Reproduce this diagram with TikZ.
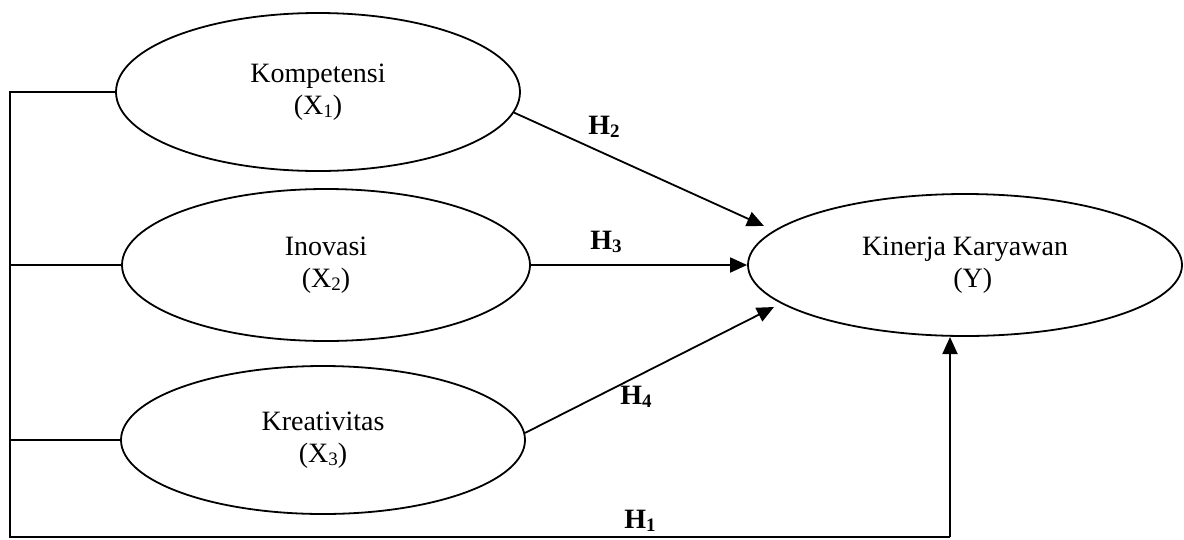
\documentclass[tikz,border=0pt]{standalone}
\usepackage{fontspec}
\setmainfont{Liberation Serif}
\usetikzlibrary{shapes.geometric,arrows.meta}
\newcommand{\sbs}[1]{\raisebox{-0.12em}{\fontsize{19}{19}\selectfont #1}}
\begin{document}
\begin{tikzpicture}[x=1pt,y=-1pt,
  line width=1.8pt,
  var/.style={draw,ellipse,inner sep=0pt,align=center,font=\fontsize{28}{32}\selectfont},
  lab/.style={font=\fontsize{28}{32}\selectfont\bfseries,inner sep=0pt},
  arr/.style={-{Triangle[length=17pt,width=15pt]}}]
\useasboundingbox (0,0) rectangle (1184,539);
\node[var,minimum width=404pt,minimum height=158pt] (k) at (318,92) {Kompetensi\\(X\sbs{1})};
\node[var,minimum width=408pt,minimum height=152pt] (i) at (326,265) {Inovasi\\(X\sbs{2})};
\node[var,minimum width=404pt,minimum height=148pt] (c) at (323,440) {Kreativitas\\(X\sbs{3})};
\node[var,minimum width=434pt,minimum height=142pt] (y) at (965,265) {Kinerja Karyawan\\\;\;(Y)};
\coordinate (tl) at (10,92);
\coordinate (bl) at (10,537);
\coordinate (br) at (950,537);
\coordinate (t2) at (764,226);
\coordinate (t4) at (774,307);
\coordinate (t1) at (950,337);
\draw (k.west) -- (tl) -- (bl) -- (br);
\draw (i.west) -- (i.west -| tl);
\draw (c.west) -- (c.west -| tl);
\draw[arr] (br) -- (t1);
\draw[arr] (k.-6) -- (t2);
\draw[arr] (i.east) -- (y.west);
\draw[arr] (c.2) -- (t4);
\node[lab] (h2) at (604,127) {H\sbs{2}};
\node[lab] (h3) at (606,242) {H\sbs{3}};
\node[lab] (h4) at (636,397) {H\sbs{4}};
\node[lab] (h1) at (640,521) {H\sbs{1}};
\end{tikzpicture}
\end{document}
